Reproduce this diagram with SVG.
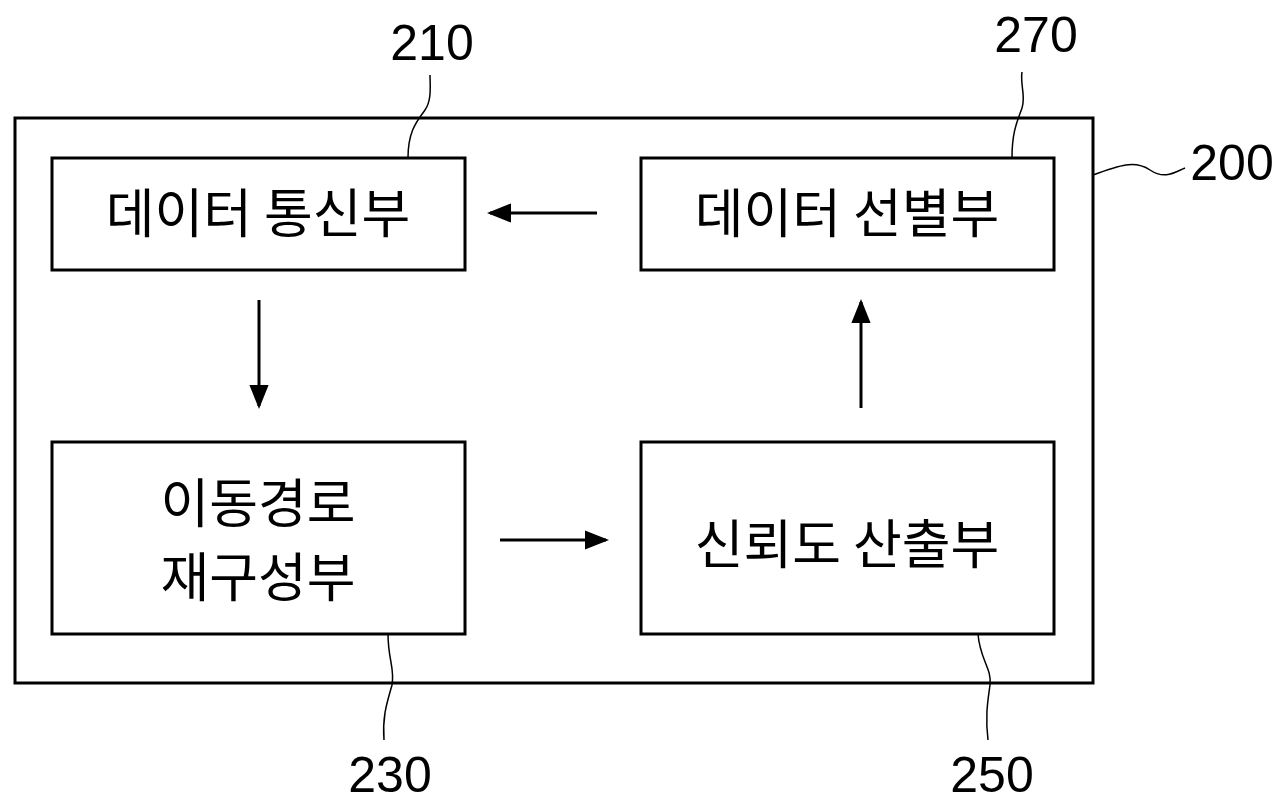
<svg xmlns="http://www.w3.org/2000/svg" width="1282" height="806" viewBox="0 0 1282 806">
<style>
.b{fill:#fff;stroke:#000;stroke-width:3}
.t{font-family:"Noto Sans CJK KR",sans-serif;font-size:53px;text-anchor:middle;fill:#000}
.n{font-family:"Liberation Sans","DejaVu Sans",sans-serif;font-size:50px;text-anchor:middle;fill:#000}
.l{fill:none;stroke:#000;stroke-width:1.5}
.a{stroke:#000;stroke-width:3;marker-end:url(#m)}
</style>
<defs><marker id="m" markerWidth="8" markerHeight="8" refX="7" refY="4" orient="auto" markerUnits="strokeWidth"><path d="M0,0.8 L8,4 L0,7.2z" fill="#000"/></marker></defs>
<rect x="0" y="0" width="1282" height="806" fill="#fff"/>
<g id="n200"><rect class="b" x="15" y="118" width="1078" height="565"/><text class="n" x="1232" y="180">200</text><path class="l" d="M1093,175 C1120,165 1135,160 1150,170 C1165,180 1175,172 1185,168"/></g>
<g id="n210"><rect class="b" x="52" y="158" width="413" height="112"/><text class="t" x="258" y="233">데이터 통신부</text><text class="n" x="432" y="60">210</text><path class="l" d="M408,158 C408,130 418,120 425,110 C432,100 430,85 430,75"/></g>
<g id="n270"><rect class="b" x="641" y="158" width="413" height="112"/><text class="t" x="847" y="233">데이터 선별부</text><text class="n" x="1036" y="52">270</text><path class="l" d="M1012,158 C1012,130 1018,120 1022,108 C1026,96 1020,85 1022,72"/></g>
<g id="n230"><rect class="b" x="52" y="442" width="413" height="192"/><text class="t" x="258" y="523">이동경로</text><text class="t" x="258" y="597">재구성부</text><text class="n" x="390" y="792">230</text><path class="l" d="M388,634 C388,660 395,668 392,685 C388,700 382,715 384,740"/></g>
<g id="n250"><rect class="b" x="641" y="442" width="413" height="192"/><text class="t" x="847" y="564">신뢰도 산출부</text><text class="n" x="992" y="792">250</text><path class="l" d="M978,634 C980,660 992,668 990,685 C988,700 985,715 988,740"/></g>
<g id="connectors">
<line class="a" x1="597" y1="213" x2="490" y2="213"/>
<line class="a" x1="259" y1="300" x2="259" y2="406"/>
<line class="a" x1="500" y1="540" x2="606" y2="540"/>
<line class="a" x1="861" y1="408" x2="861" y2="302"/>
</g>
</svg>
